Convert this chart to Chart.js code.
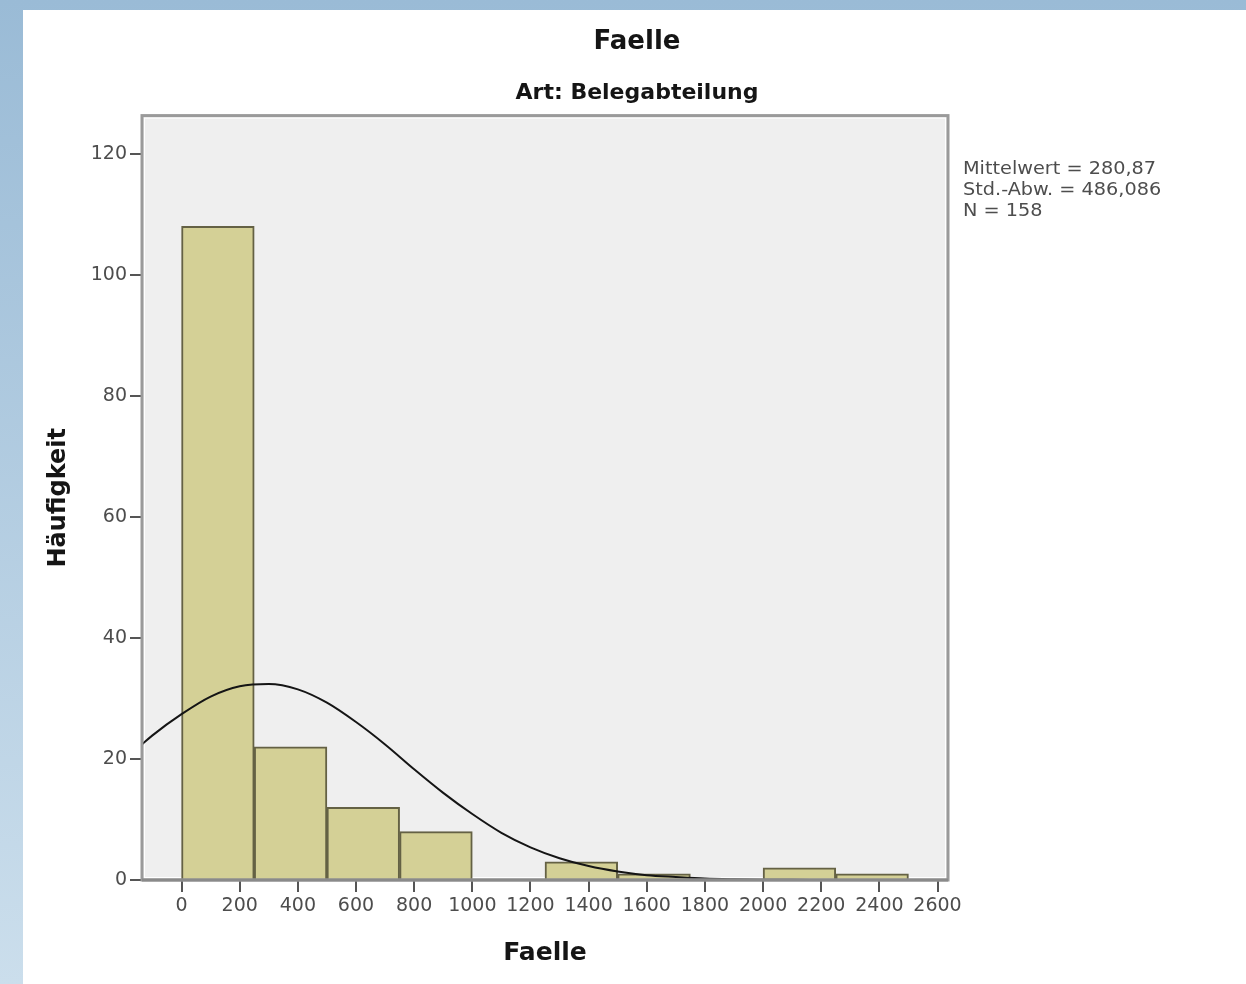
<!DOCTYPE html>
<html>
<head>
<meta charset="utf-8">
<script src="https://cdn.jsdelivr.net/npm/chart.js@4/dist/chart.umd.min.js"></script>
<style>
  html, body { margin: 0; padding: 0; }
  body {
    width: 1246px;
    height: 984px;
    position: relative;
    overflow: hidden;
    background: linear-gradient(to bottom, #9abbd6, #cbdeec);
  }
  #panel { position: absolute; left: 23px; top: 10px; right: 0; bottom: 0; background: #fff; }
  #myChart { position: absolute; left: 28px; top: 0; }
</style>
</head>
<body>
<div id="panel"></div>
<canvas id="myChart" width="1218" height="984"></canvas>
<script>
// histogram bins (Faelle), width 250
var binStarts = [0, 250, 500, 750, 1000, 1250, 1500, 1750, 2000, 2250];
var binWidth = 250;
var counts = [108, 22, 12, 8, 0, 3, 1, 0, 2, 1];

// normal curve
var curveX = [-136, -100, 0, 100, 200, 300, 400, 500, 600, 700, 800, 900, 1000, 1100, 1200, 1300,
  1400, 1500, 1600, 1700, 1800, 1900, 2000, 2100, 2200, 2300, 2400, 2500, 2600, 2636];
var curveY = [22.4, 23.9, 27.4, 30.3, 32.0, 32.4, 31.5, 29.3, 26.1, 22.4, 18.3, 14.4, 10.9, 7.8, 5.4, 3.6,
  2.3, 1.4, 0.8, 0.5, 0.25, 0.13, 0.06, 0.03, 0.01, 0, 0, 0, 0, 0];

var xTicks = [0, 200, 400, 600, 800, 1000, 1200, 1400, 1600, 1800, 2000, 2200, 2400, 2600];
var yTicks = [0, 20, 40, 60, 80, 100, 120];

var statsLines = ["Mittelwert = 280,87", "Std.-Abw. = 486,086", "N = 158"];

var FONT = "'DejaVu Sans', 'Liberation Sans', sans-serif";

var barData = [];
for (var i = 0; i < binStarts.length; i++) {
  barData.push({ x: binStarts[i] + binWidth / 2, y: counts[i] });
}
var curveData = [];
for (var j = 0; j < curveX.length; j++) {
  curveData.push({ x: curveX[j], y: curveY[j] });
}

var framePlugin = {
  id: "frame",
  beforeDraw: function (chart) {
    var ctx = chart.ctx;
    var a = chart.chartArea;
    ctx.save();
    ctx.fillStyle = "#efefef";
    ctx.fillRect(a.left, a.top, a.right - a.left, a.bottom - a.top);
    ctx.strokeStyle = "#ffffff";
    ctx.lineWidth = 1;
    ctx.strokeRect(a.left + 2.5, a.top + 2.5, a.right - a.left - 5, a.bottom - a.top - 5);
    ctx.restore();
  },
  afterDatasetsDraw: function (chart) {
    var ctx = chart.ctx;
    var a = chart.chartArea;
    ctx.save();
    ctx.strokeStyle = "#9a9a9a";
    ctx.lineWidth = 3;
    ctx.strokeRect(a.left, a.top, a.right - a.left, a.bottom - a.top);
    ctx.strokeStyle = "#8a8a8a";
    ctx.beginPath();
    ctx.moveTo(a.left, a.bottom);
    ctx.lineTo(a.right, a.bottom);
    ctx.stroke();
    ctx.restore();
  },
  afterDraw: function (chart) {
    var ctx = chart.ctx;
    var a = chart.chartArea;
    ctx.save();
    ctx.font = "18px " + FONT;
    ctx.fillStyle = "#4d4d4d";
    ctx.textBaseline = "middle";
    ctx.textAlign = "left";
    ctx.translate(a.right + 15, a.top + 54);
    ctx.scale(1.07, 1);
    for (var k = 0; k < statsLines.length; k++) {
      ctx.fillText(statsLines[k], 0, k * 21);
    }
    ctx.restore();
  },
};

var ctx = document.getElementById("myChart").getContext("2d");
var chart = new Chart(ctx, {
  type: "bar",
  data: {
    datasets: [
      {
        type: "line",
        data: curveData,
        borderColor: "#151515",
        borderWidth: 2,
        pointRadius: 0,
        cubicInterpolationMode: "monotone",
        fill: false,
        order: 0,
      },
      {
        type: "bar",
        data: barData,
        backgroundColor: "rgb(212, 208, 150)",
        borderColor: "rgb(100, 97, 68)",
        borderWidth: 2,
        barThickness: "flex",
        barPercentage: 1,
        categoryPercentage: 1,
        order: 1,
      },
    ],
  },
  options: {
    responsive: false,
    animation: false,
    layout: { padding: 0 },
    plugins: {
      legend: { display: false },
      tooltip: { enabled: false },
      title: {
        display: true,
        text: "Faelle",
        color: "#151515",
        font: { family: FONT, size: 26, weight: "bold" },
        padding: { top: 27, bottom: 22 },
      },
      subtitle: {
        display: true,
        text: "Art: Belegabteilung",
        color: "#151515",
        font: { family: FONT, size: 22, weight: "bold" },
        padding: { top: 0, bottom: 9 },
      },
    },
    scales: {
      x: {
        type: "linear",
        min: -136,
        max: 2636,
        offset: false,
        afterBuildTicks: function (axis) {
          axis.ticks = xTicks.map(function (v) { return { value: v }; });
        },
        afterFit: function (axis) {
          axis.height = 104;
        },
        ticks: {
          color: "#4d4d4d",
          font: { family: FONT, size: 19 },
          padding: 3,
          maxRotation: 0,
          autoSkip: false,
          callback: function (v) { return String(v); },
        },
        grid: { offset: false, drawOnChartArea: false, drawTicks: true, tickLength: 12, color: "#555555", lineWidth: 2 },
        border: { display: false },
        title: {
          display: true,
          text: "Faelle",
          color: "#151515",
          font: { family: FONT, size: 25, weight: "bold" },
          padding: { top: 0, bottom: 16 },
        },
      },
      y: {
        type: "linear",
        min: 0,
        max: 126.3,
        afterBuildTicks: function (axis) {
          axis.ticks = yTicks.map(function (v) { return { value: v }; });
        },
        afterFit: function (axis) {
          axis.width = 114;
        },
        ticks: {
          color: "#4d4d4d",
          font: { family: FONT, size: 19 },
          padding: 3,
          callback: function (v) { return String(v); },
        },
        grid: { drawOnChartArea: false, drawTicks: true, tickLength: 12, color: "#555555", lineWidth: 2 },
        border: { display: false },
        title: {
          display: true,
          text: "Häufigkeit",
          color: "#151515",
          font: { family: FONT, size: 24, weight: "bold" },
          padding: { top: 16, bottom: 0 },
        },
      },
      // empty right axis, only keeps room for the statistics text
      side: {
        type: "linear",
        position: "right",
        display: true,
        min: 0,
        max: 1,
        afterFit: function (axis) {
          axis.width = 298;
        },
        ticks: { display: false },
        grid: { display: false, drawTicks: false },
        border: { display: false },
      },
    },
  },
  plugins: [framePlugin],
});
</script>
</body>
</html>
